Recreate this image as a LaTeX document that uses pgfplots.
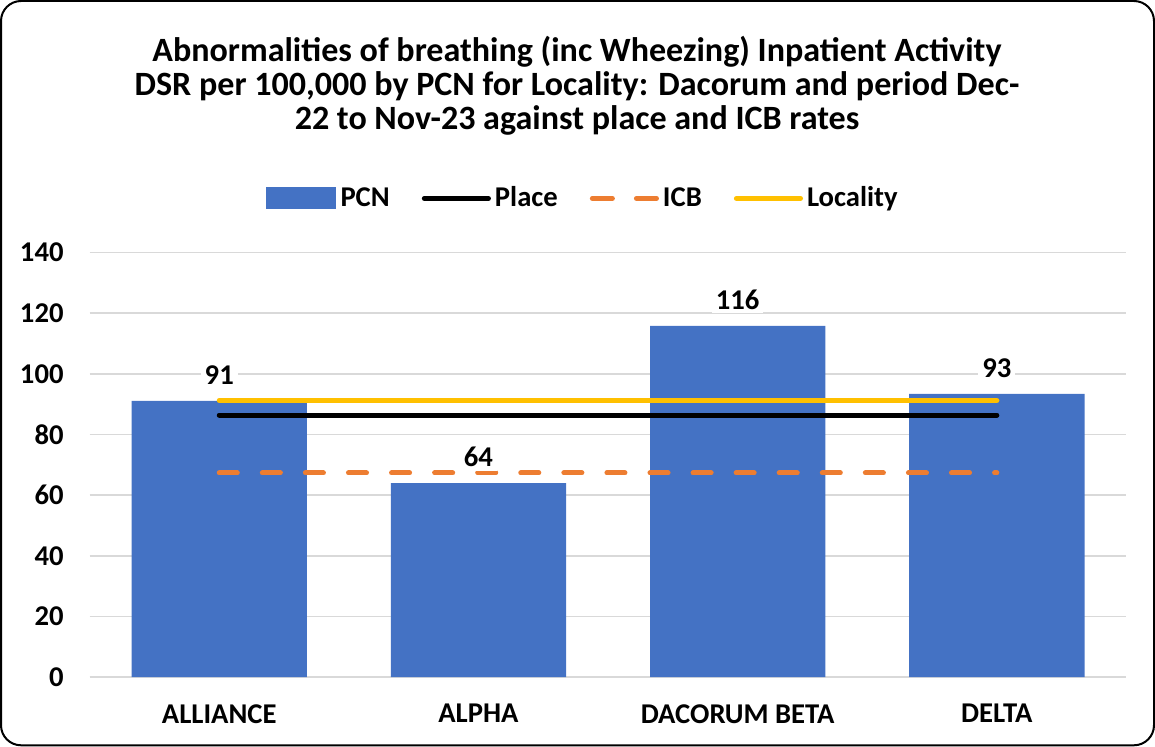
\documentclass[border=0pt]{standalone}
\usepackage{pgfplots}
\pgfplotsset{compat=1.18}
\usepackage{fontspec}
\setmainfont{Carlito}
\definecolor{barblue}{HTML}{4472C4}
\definecolor{icborange}{HTML}{ED7D31}
\definecolor{locyellow}{HTML}{FFC000}
\definecolor{gridgray}{HTML}{D9D9D9}
\begin{document}
\begin{tikzpicture}
\draw[black, line width=1pt, rounded corners=10pt] (1pt,1pt) rectangle (576.5pt,372.5pt);
\node[font=\bfseries\fontsize{17}{17}\selectfont, align=center] at (288.5pt,330.25pt)
{Abnormalities of breathing (inc Wheezing) Inpatient Activity\\DSR per 100,000 by PCN for Locality: Dacorum and period Dec-\\22 to Nov-23 against place and ICB rates};
\begin{axis}[
  at={(45.25pt,35pt)}, anchor=south west,
  scale only axis, width=517.5pt, height=212pt,
  xmin=-0.5, xmax=3.5, ymin=0, ymax=140,
  ytick={0,20,...,140},
  xtick={0,1,2,3},
  xticklabels={ALLIANCE,ALPHA,DACORUM BETA,DELTA},
  ymajorgrids, grid style={gridgray, line width=0.8pt},
  axis x line*=bottom, axis y line*=left,
  x axis line style={gridgray, line width=0.8pt},
  y axis line style={draw=none},
  major tick length=0pt,
  tick label style={font=\bfseries\fontsize{14.3}{16}\selectfont},
  /pgf/number format/assume math mode=true,
  yticklabel style={xshift=-9.5pt},
  xticklabel style={yshift=-10pt},
  legend style={at={(0.5,1)}, anchor=south, yshift=17pt, xshift=-12pt, draw=none, fill=none,
     font=\bfseries\fontsize{14.3}{16}\selectfont, legend columns=4,
     /tikz/every even column/.append style={column sep=14pt}},
  clip=false,
]
\addplot[ybar, bar width=87.5pt, fill=barblue, draw=none,
  nodes near coords={\pgfmathprintnumber[fixed,precision=0]{\pgfplotspointmeta}},
  every node near coord/.append style={font=\bfseries\fontsize{14.3}{16}\selectfont, fill=white, inner sep=2pt, yshift=6pt},
  legend image code/.code={\fill[barblue] (0pt,-5.5pt) rectangle (35pt,5.5pt);}]
  coordinates {(0,91.1) (1,64.0) (2,115.8) (3,93.4)};
\addlegendentry{PCN}
\addplot[black, line width=2.5pt, line cap=round, legend image code/.code={\draw[black,line width=2.5pt,line cap=round] (1.25pt,0pt) -- (33.25pt,0pt);}]
  coordinates {(0,86.4) (3,86.4)};
\addlegendentry{Place}
\addplot[icborange, line width=2.5pt, line cap=round, dash pattern=on 9pt off 12.5pt,
  legend image code/.code={\draw[icborange,line width=2.5pt,line cap=round,dash pattern=on 10pt off 12pt] (1.25pt,0pt) -- (33.25pt,0pt);}]
  coordinates {(0,67.3) (3,67.3)};
\addlegendentry{ICB}
\addplot[locyellow, line width=2.5pt, line cap=round, legend image code/.code={\draw[locyellow,line width=2.5pt,line cap=round] (1.25pt,0pt) -- (33.25pt,0pt);}]
  coordinates {(0,91.2) (3,91.2)};
\addlegendentry{Locality}
\end{axis}
\end{tikzpicture}
\end{document}
